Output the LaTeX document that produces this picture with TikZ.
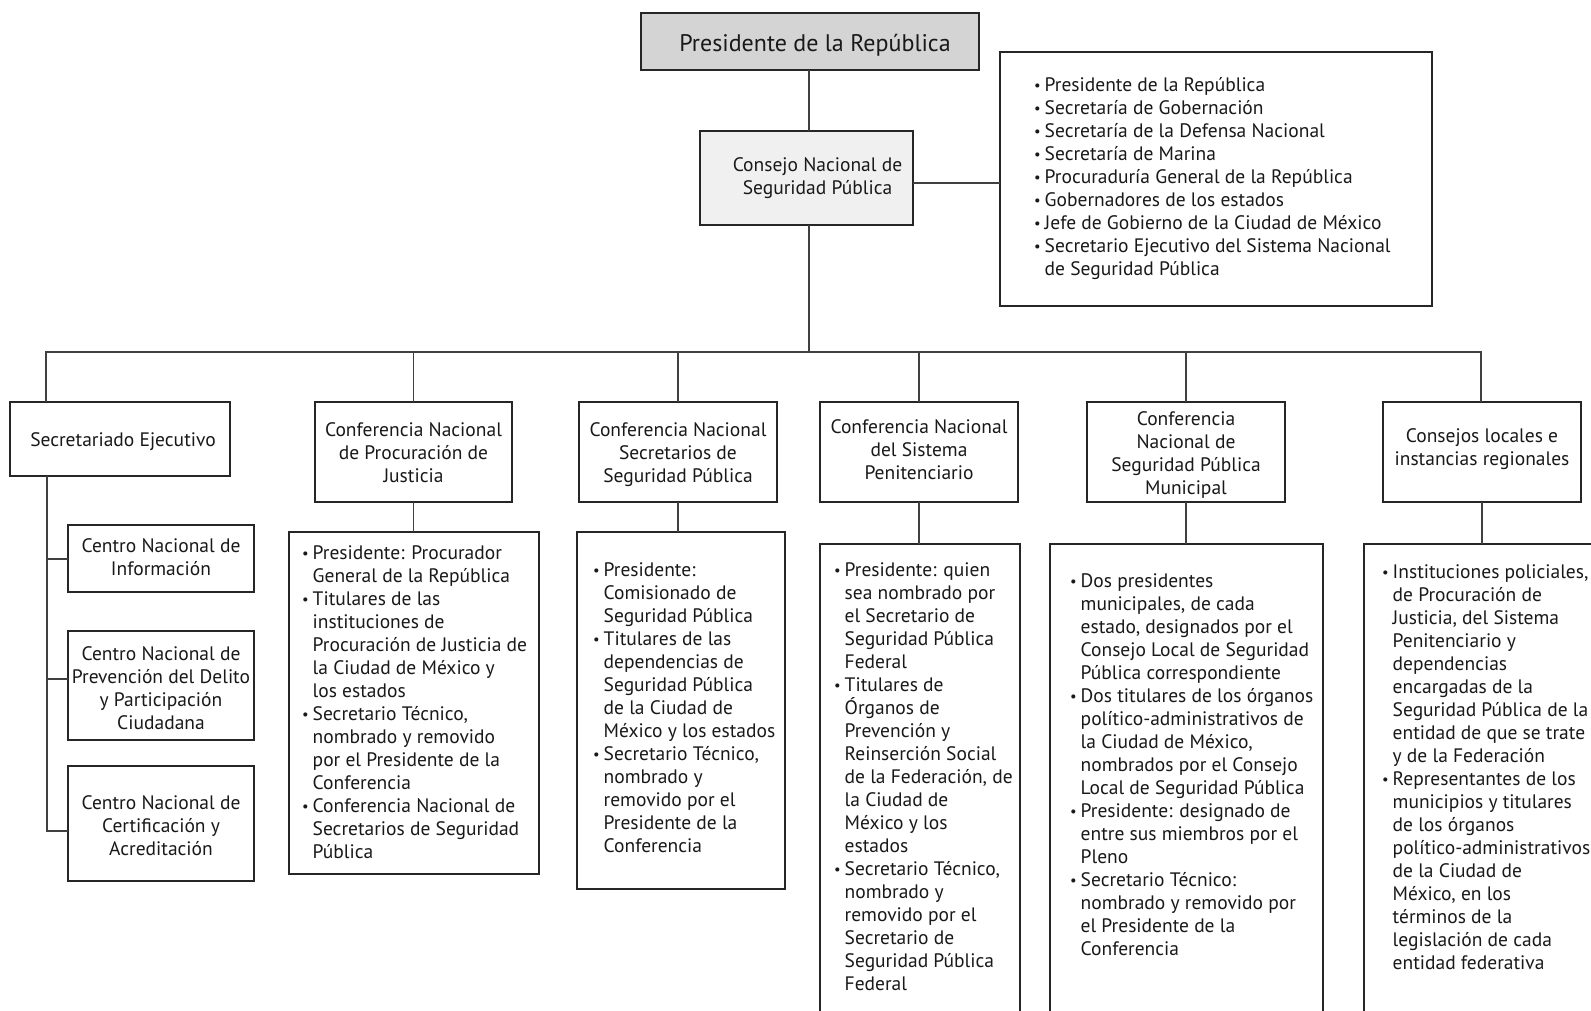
\documentclass[tikz,border=0pt]{standalone}
\usepackage{fontspec}
\usepackage{graphicx}
\setmainfont{PT Sans}
\usetikzlibrary{calc}
\newcommand{\bu}{\makebox[10.5pt][l]{\raisebox{0.5pt}{\scalebox{0.75}{\textbullet}}}}
\newcommand{\hng}{\hspace*{10.5pt}}
\newcommand{\headrule}[1]{\rule{0pt}{#1}}
\newcommand{\tailrule}[1]{\rule[-#1]{0pt}{#1}}
\begin{document}
\begin{tikzpicture}[x=1pt,y=-1pt,
  box/.style={draw=black!85, line width=1.1pt, inner sep=0pt, outer sep=0pt, anchor=north west, align=center, font=\fontsize{19.5}{23}\selectfont, text=black!90},
  lst/.style={anchor=north west, inner sep=0pt, align=left, font=\fontsize{19.5}{23}\selectfont, text=black!90},
  conn/.style={draw=black!75, line width=1.1pt}]
\useasboundingbox (0,0) rectangle (1591,1011);
\clip (0,0) rectangle (1591,1011);
\fill[white] (0,0) rectangle (1591,1011);

% top
\node[box, fill=black!17, minimum width=338pt, minimum height=57pt, font=\fontsize{24}{28}\selectfont, text height=20.2pt, text depth=0pt] (pres) at (641,13) {\hspace*{10pt}Presidente de la República};
\node[box, fill=black!6, minimum width=213pt, minimum height=94pt] (cons) at (700,131) {\strut\hspace*{22pt}Consejo Nacional de\\\hspace*{22pt}Seguridad Pública\strut};
\node[box, minimum width=432pt, minimum height=254pt] (memb) at (1000,52) {};
\node[lst] (membt) at (1034,74.8) {\strut\bu Presidente de la República\\
\bu Secretaría de Gobernación\\
\bu Secretaría de la Defensa Nacional\\
\bu Secretaría de Marina\\
\bu Procuraduría General de la República\\
\bu Gobernadores de los estados\\
\bu Jefe de Gobierno de la Ciudad de México\\
\bu Secretario Ejecutivo del Sistema Nacional\\
\hng de Seguridad Pública};

% second level
\node[box, minimum width=220pt, minimum height=74pt] (sec) at (10,402) {\headrule{22.1pt}\hspace*{6pt}Secretariado Ejecutivo\strut};
\node[box, minimum width=197pt, minimum height=100pt] (proc) at (315,402) {\headrule{21.1pt}Conferencia Nacional\\de Procuración de\\Justicia\strut};
\node[box, minimum width=198pt, minimum height=100pt] (secr) at (579,402) {\headrule{22.1pt}Conferencia Nacional\\Secretarios de\\Seguridad Pública\strut};
\node[box, minimum width=198pt, minimum height=100pt] (pen) at (820,402) {\strut Conferencia Nacional\\del Sistema\\Penitenciario\strut};
\node[box, minimum width=198pt, minimum height=100pt] (mun) at (1087,402) {\headrule{22.1pt}Conferencia\\Nacional de\\Seguridad Pública\\Municipal\strut};
\node[box, minimum width=198pt, minimum height=100pt] (cl) at (1383,402) {\strut Consejos locales e\\instancias regionales\tailrule{12.9pt}};

% centros
\node[box, minimum width=186pt, minimum height=67pt] (info) at (68,525) {\headrule{18.1pt}Centro Nacional de\\Información\strut};
\node[box, minimum width=186pt, minimum height=109pt] (prev) at (68,631) {\headrule{25.1pt}Centro Nacional de\\Prevención del Delito\\y Participación\\Ciudadana\strut};
\node[box, minimum width=186pt, minimum height=115pt] (cert) at (68,766) {\headrule{24.1pt}Centro Nacional de\\Certificación y\\Acreditación\strut};

% lists
\node[box, minimum width=250pt, minimum height=342pt] (procl) at (289,532) {};
\node[lst] (proclt) at (302,542.8) {\strut\bu Presidente: Procurador\\
\hng General de la República\\
\bu Titulares de las\\
\hng instituciones de\\
\hng Procuración de Justicia de\\
\hng la Ciudad de México y\\
\hng los estados\\
\bu Secretario Técnico,\\
\hng nombrado y removido\\
\hng por el Presidente de la\\
\hng Conferencia\\
\bu Conferencia Nacional de\\
\hng Secretarios de Seguridad\\
\hng Pública};

\node[box, minimum width=208pt, minimum height=357pt] (secrl) at (577,532) {};
\node[lst] (secrlt) at (593,559.8) {\strut\bu Presidente:\\
\hng Comisionado de\\
\hng Seguridad Pública\\
\bu Titulares de las\\
\hng dependencias de\\
\hng Seguridad Pública\\
\hng de la Ciudad de\\
\hng México y los estados\\
\bu Secretario Técnico,\\
\hng nombrado y\\
\hng removido por el\\
\hng Presidente de la\\
\hng Conferencia};

\node[box, minimum width=200pt, minimum height=520pt] (penl) at (820,544) {};
\node[lst] (penlt) at (834,559.8) {\strut\bu Presidente: quien\\
\hng sea nombrado por\\
\hng el Secretario de\\
\hng Seguridad Pública\\
\hng Federal\\
\bu Titulares de\\
\hng Órganos de\\
\hng Prevención y\\
\hng Reinserción Social\\
\hng de la Federación, de\\
\hng la Ciudad de\\
\hng México y los\\
\hng estados\\
\bu Secretario Técnico,\\
\hng nombrado y\\
\hng removido por el\\
\hng Secretario de\\
\hng Seguridad Pública\\
\hng Federal};

\node[box, minimum width=273pt, minimum height=520pt] (munl) at (1050,544) {};
\node[lst] (munlt) at (1070,570.8) {\strut\bu Dos presidentes\\
\hng municipales, de cada\\
\hng estado, designados por el\\
\hng Consejo Local de Seguridad\\
\hng Pública correspondiente\\
\bu Dos titulares de los órganos\\
\hng político-administrativos de\\
\hng la Ciudad de México,\\
\hng nombrados por el Consejo\\
\hng Local de Seguridad Pública\\
\bu Presidente: designado de\\
\hng entre sus miembros por el\\
\hng Pleno\\
\bu Secretario Técnico:\\
\hng nombrado y removido por\\
\hng el Presidente de la\\
\hng Conferencia};

\node[box, minimum width=236pt, minimum height=520pt] (cll) at (1364,544) {};
\node[lst] (cllt) at (1382,561.8) {\strut\bu Instituciones policiales,\\
\hng de Procuración de\\
\hng Justicia, del Sistema\\
\hng Penitenciario y\\
\hng dependencias\\
\hng encargadas de la\\
\hng Seguridad Pública de la\\
\hng entidad de que se trate\\
\hng y de la Federación\\
\bu Representantes de los\\
\hng municipios y titulares\\
\hng de los órganos\\
\hng político-administrativos\\
\hng de la Ciudad de\\
\hng México, en los\\
\hng términos de la\\
\hng legislación de cada\\
\hng entidad federativa};

% connectors
\coordinate (busL) at (46,352);
\coordinate (busR) at (1481,352);
\coordinate (topx) at (809,0);
\draw[conn] (topx |- pres.south) -- (topx |- cons.north);
\draw[conn] (topx |- cons.south) -- (topx |- busL);
\draw[conn] (cons.east |- 0,183) -- (memb.west |- 0,183);
\draw[conn] (busL |- sec.north) -- (busL) -- (busR) -- (busR |- cl.north);
\draw[conn] (proc.north) -- (proc.north |- busL);
\draw[conn] (secr.north) -- (secr.north |- busL);
\draw[conn] (pen.north) -- (pen.north |- busL);
\draw[conn] (mun.north) -- (mun.north |- busL);
\draw[conn] (proc.south) -- (proc.south |- procl.north);
\draw[conn] (secr.south) -- (secr.south |- secrl.north);
\draw[conn] (pen.south) -- (pen.south |- penl.north);
\draw[conn] (mun.south) -- (mun.south |- munl.north);
\draw[conn] (cl.south) -- (cl.south |- cll.north);
\coordinate (b1) at (47,559);
\coordinate (b2) at (47,679);
\coordinate (b3) at (47,831);
\draw[conn] (b1 |- sec.south) -- (b3) -- (cert.west |- b3);
\draw[conn] (b1) -- (info.west |- b1);
\draw[conn] (b2) -- (prev.west |- b2);
\end{tikzpicture}
\end{document}
